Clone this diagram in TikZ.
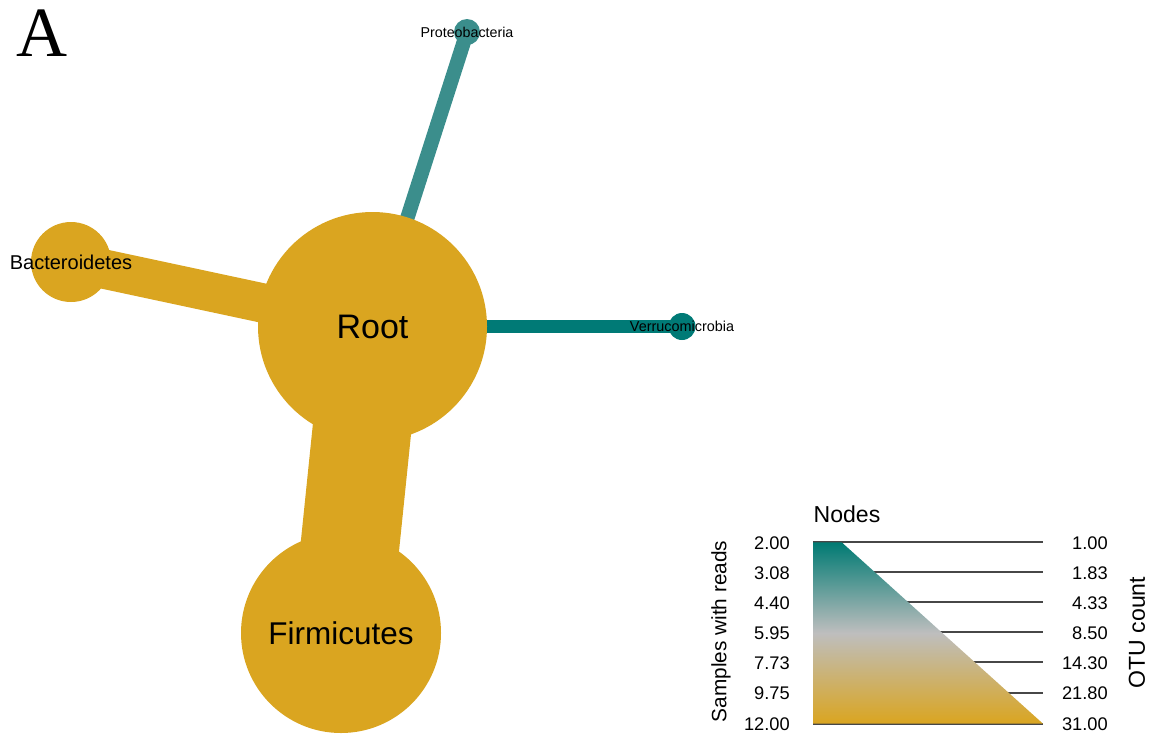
\documentclass[tikz,border=0pt]{standalone}
\usepackage{fontspec}
\usetikzlibrary{backgrounds}
\setmainfont{Liberation Sans}
\newfontfamily\panelfont{Liberation Serif}
\definecolor{gold}{HTML}{DAA520}
\definecolor{tealdark}{HTML}{007A76}
\definecolor{teallight}{HTML}{3B8E8C}
\definecolor{tealtop}{HTML}{007A73}
\definecolor{midgray}{HTML}{BEBEBE}
\newcommand{\fsz}[1]{\fontsize{#1}{#1}\selectfont}
\begin{document}
\begin{tikzpicture}[x=0.75pt,y=-0.75pt,
  taxon/.style={circle,inner sep=0pt,draw=none},
  tick/.style={draw=black!72,line width=1.3pt},
  val/.style={anchor=east,font=\fsz{13.7},inner sep=0pt}]
\useasboundingbox (0,0) rectangle (1155,733);

% panel letter
\node[font=\panelfont\fsz{53},inner sep=0pt] (panel) at (42,33.5) {A};

% taxa
\node[taxon,fill=gold,minimum size=171.75pt,
      label={[font=\fsz{25.5}]center:Root}] (root) at (372.5,326.5) {};
\node[taxon,fill=gold,minimum size=150pt,
      label={[font=\fsz{23.6}]center:Firmicutes}] (firm) at (341,633) {};
\node[taxon,fill=gold,minimum size=60pt,
      label={[font=\fsz{15}]center:Bacteroidetes}] (bact) at (71,262) {};
\node[taxon,fill=teallight,minimum size=19.5pt,
      label={[font=\fsz{10.7}]center:Proteobacteria}] (prot) at (467,32) {};
\node[taxon,fill=tealdark,minimum size=20.25pt,
      label={[font=\fsz{10.8}]center:Verrucomicrobia}] (verr) at (682,326.5) {};

% edges beneath the taxa
\begin{scope}[on background layer]
  \draw[gold,line width=74pt] (root.center) -- (firm.center);
  \draw[gold,line width=29.5pt] (root.center) -- (bact.center);
  \draw[teallight,line width=10.8pt] (root.center) -- (prot.center);
  \draw[tealdark,line width=10pt] (root.center) -- (verr.center);
\end{scope}

% legend
\node[font=\fsz{17.3},anchor=base,inner sep=0pt] (legtitle) at (847,522) {Nodes};
\foreach \y/\l/\r [count=\i] in {542.3/2.00/1.00, 572/3.08/1.83, 602.3/4.40/4.33,
    632.3/5.95/8.50, 662.3/7.73/14.30, 692.7/9.75/21.80, 723.7/12.00/31.00} {
  \coordinate (tl\i) at (813,\y);
  \coordinate (tr\i) at (1043,\y);
  \draw[tick] (tl\i) -- (tr\i);
  \node[val] (lv\i) at (790,\y+0.7) {\l};
  \node[val] (rv\i) at (1108,\y+0.7) {\r};
}
\coordinate (tritop) at (841.7,542.3);
\shade[top color=tealtop,bottom color=gold,middle color=midgray]
  (tl1) -- (tritop) -- (tr7) -- (tl7) -- cycle;
\node[font=\fsz{15.6},rotate=90,inner sep=0pt] (leftaxis) at (721,631.5) {Samples with reads};
\node[font=\fsz{17.3},rotate=90,inner sep=0pt] (rightaxis) at (1137,632.5) {OTU count};
\end{tikzpicture}
\end{document}
